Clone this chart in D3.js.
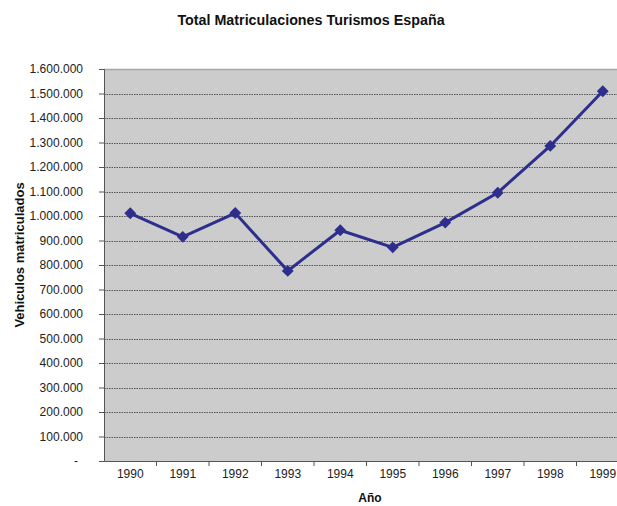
<!DOCTYPE html>
<html><head><meta charset="utf-8">
<script src="https://cdn.jsdelivr.net/npm/d3@7"></script>
<style>body{margin:0;background:#fff}svg{display:block}text{font-family:"Liberation Sans",Arial,sans-serif}</style>
</head><body>
<script>
const years = ["1990","1991","1992","1993","1994","1995","1996","1997","1998","1999"];
const matriculaciones = [1011000, 915000, 1012000, 776000, 942000, 872000, 973000, 1095000, 1286000, 1509000];
const yTicks = [0,100000,200000,300000,400000,500000,600000,700000,800000,900000,1000000,1100000,1200000,1300000,1400000,1500000,1600000];

const W = 617, H = 506;
const m = {left:104, top:69, right:-12, bottom:45};
const svg = d3.select("body").append("svg").attr("width",W).attr("height",H);
const x = d3.scaleBand().domain(years).range([m.left, W - m.right]);
const y = d3.scaleLinear().domain([0,1600000]).range([H - m.bottom, m.top]);

svg.append("rect").attr("x",m.left).attr("y",m.top).attr("width",W-m.right-m.left).attr("height",y(0)-m.top).attr("fill","#cccccc");
svg.append("line").attr("x1",m.left).attr("x2",W).attr("y1",m.top+0.5).attr("y2",m.top+0.5).attr("stroke","#a6a6a6").attr("stroke-width",1.5);

const fmt = v => v === 0 ? "-" : d3.format(",")(v).replace(/,/g,".");

// grid
svg.append("g").selectAll("line").data(yTicks.filter(t=>t>0 && t<1600000)).join("line")
  .attr("x1",m.left).attr("x2",W).attr("y1",d=>Math.round(y(d))+0.5).attr("y2",d=>Math.round(y(d))+0.5)
  .attr("stroke","#555").attr("stroke-width",1).attr("stroke-dasharray","1.5,1");

const ya = svg.append("g").attr("transform",`translate(${m.left},0)`)
  .call(d3.axisLeft(y).tickValues(yTicks).tickFormat(fmt).tickSize(5).tickPadding(16));
ya.select(".domain").attr("stroke","#555");
ya.selectAll(".tick line").attr("stroke","#555");
ya.selectAll("text").attr("font-size",12).attr("fill","#222");
ya.selectAll(".tick").filter(d=>d===0).select("text").attr("dx",-5);

const xa = svg.append("g").attr("transform",`translate(0,${y(0)})`)
  .call(d3.axisBottom(x).tickSize(0).tickPadding(8));
xa.select(".domain").attr("stroke","#555");
xa.selectAll("text").attr("font-size",12).attr("fill","#222");
svg.append("g").selectAll("line").data(years).join("line")
  .attr("x1",d=>x(d)+x.bandwidth()).attr("x2",d=>x(d)+x.bandwidth())
  .attr("y1",y(0)).attr("y2",y(0)+5).attr("stroke","#555");

const line = d3.line().x((d,i)=>x(years[i])+x.bandwidth()/2).y(d=>y(d));
svg.append("path").datum(matriculaciones).attr("d",line).attr("fill","none")
  .attr("stroke","#2e2e8c").attr("stroke-width",3);
svg.append("g").selectAll("path").data(matriculaciones).join("path")
  .attr("transform",(d,i)=>`translate(${x(years[i])+x.bandwidth()/2},${y(d)})`)
  .attr("d",d3.symbol(d3.symbolDiamond2,90)).attr("fill","#2e2e8c");

svg.append("text").attr("x",311).attr("y",25).attr("text-anchor","middle")
  .attr("font-size",14.3).attr("font-weight","bold").attr("fill","#111").text("Total Matriculaciones Turismos España");
svg.append("text").attr("transform","translate(24,255) rotate(-90)").attr("text-anchor","middle")
  .attr("font-size",13).attr("font-weight","bold").attr("fill","#111").text("Vehiculos matriculados");
svg.append("text").attr("x",370).attr("y",502).attr("text-anchor","middle")
  .attr("font-size",12).attr("font-weight","bold").attr("fill","#111").text("Año");
</script>
</body></html>
